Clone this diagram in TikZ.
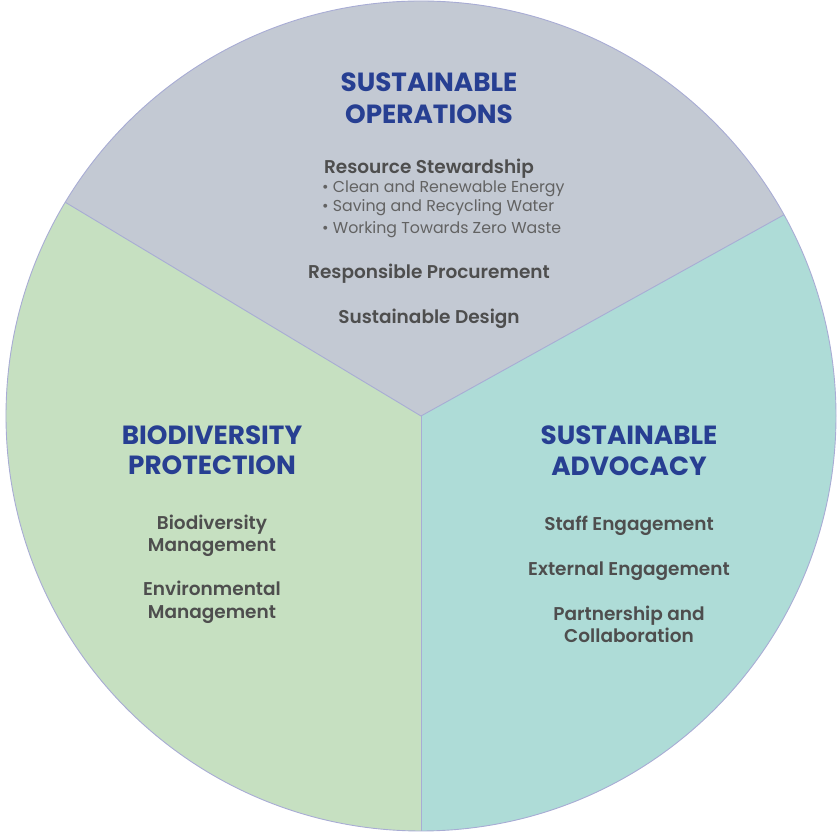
\documentclass[tikz,border=0pt]{standalone}
\usepackage{fontspec}
\setmainfont{Poppins}
\newfontfamily\popbold{Poppins Bold}
\newfontfamily\popsemi{Poppins SemiBold}
\newfontfamily\popreg{Poppins}
\definecolor{topc}{HTML}{C3C9D3}
\definecolor{leftc}{HTML}{C6E0C1}
\definecolor{rightc}{HTML}{AEDCD7}
\definecolor{edgec}{HTML}{A8ACD4}
\definecolor{titlec}{HTML}{273F92}
\definecolor{bodyc}{HTML}{4E4E4E}
\definecolor{bulletc}{HTML}{626262}
\begin{document}
\begin{tikzpicture}[x=1pt,y=1pt,
  title/.style={font=\popbold\fontsize{26.3}{30}\selectfont, text=titlec, anchor=base, inner sep=0pt},
  item/.style={font=\popsemi\fontsize{18.5}{20}\selectfont, text=bodyc, anchor=base, inner sep=0pt},
  bul/.style={font=\popreg\fontsize{15.8}{18}\selectfont, text=bulletc, anchor=base west, inner sep=0pt},
  edge/.style={draw=edgec, line width=0.9pt}]
\useasboundingbox (0,0) rectangle (839,832);
\coordinate (c) at (421,416);
\def\R{415}
\fill[topc] (c) -- ++(149:\R) arc[start angle=149, end angle=29, radius=\R] -- cycle;
\fill[leftc] (c) -- ++(149:\R) arc[start angle=149, end angle=270, radius=\R] -- cycle;
\fill[rightc] (c) -- ++(270:\R) arc[start angle=270, end angle=389, radius=\R] -- cycle;
\draw[edge] (c) circle[radius=\R];
\draw[edge] (c) -- ++(149:\R);
\draw[edge] (c) -- ++(29:\R);
\draw[edge] (c) -- ++(270:\R);
% top sector
\node[title] (t1) at (429,740.3) {SUSTAINABLE};
\node[title] (t2) at (429,708.7) {OPERATIONS};
\node[item] (rs) at (429,658.7) {Resource Stewardship};
\node[bul] (b1) at (322,639.3) {• Clean and Renewable Energy};
\node[bul] (b2) at (322,620.3) {• Saving and Recycling Water};
\node[bul] (b3) at (322,598.7) {• Working Towards Zero Waste};
\node[item] (rp) at (429,553.7) {Responsible Procurement};
\node[item] (sd) at (429,508.7) {Sustainable Design};
% left sector
\node[title] (l1) at (212,387.7) {BIODIVERSITY};
\node[title] (l2) at (212,357) {PROTECTION};
\node[item] (bm1) at (212,302.7) {Biodiversity};
\node[item] (bm2) at (212,280) {Management};
\node[item] (em1) at (212,236) {Environmental};
\node[item] (em2) at (212,213) {Management};
% right sector
\node[title] (r1) at (629,387.7) {SUSTAINABLE};
\node[title] (r2) at (629,356.3) {ADVOCACY};
\node[item] (se) at (629,301.3) {Staff Engagement};
\node[item] (ee) at (629,256.3) {External Engagement};
\node[item] (pc1) at (629,211.3) {Partnership and};
\node[item] (pc2) at (629,189) {Collaboration};
\end{tikzpicture}
\end{document}
